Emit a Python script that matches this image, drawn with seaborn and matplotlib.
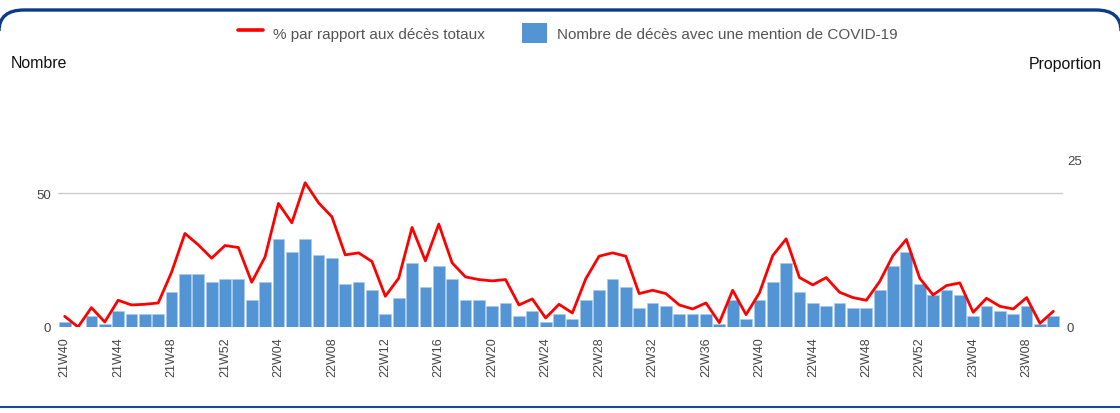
import numpy as np
import pandas as pd
import matplotlib
matplotlib.use("Agg")
import matplotlib.pyplot as plt
import seaborn as sns
from matplotlib.lines import Line2D
from matplotlib.patches import Patch, PathPatch
from matplotlib.path import Path

# ---------------- data ----------------
weeks = ([f"21W{w:02d}" for w in range(40, 53)]
         + [f"22W{w:02d}" for w in range(1, 53)]
         + [f"23W{w:02d}" for w in range(1, 11)])

deaths = [2, 0, 4, 1, 6, 5, 5, 5, 13, 20, 20, 17, 18,
          18, 10, 17, 33, 28, 33, 27, 26, 16, 17, 14, 5, 11, 24, 15, 23, 18, 10,
          10, 8, 9, 4, 6, 2, 5, 3, 10, 14, 18, 15, 7, 9, 8, 5, 5, 5, 1, 10, 3,
          10, 17, 24, 13, 9, 8, 9, 7, 7, 14, 23, 28, 16,
          12, 14, 12, 4, 8, 6, 5, 8, 1, 4]

proportion = [1.6, 0.0, 2.9, 0.75, 4.0, 3.3, 3.4, 3.6, 8.2, 14.0, 12.3, 10.3, 12.2,
              11.9, 6.7, 10.5, 18.5, 15.6, 21.6, 18.6, 16.5, 10.8, 11.1, 9.8, 4.6,
              7.3, 14.9, 9.9, 15.4, 9.6, 7.5, 7.1, 6.9, 7.1, 3.3, 4.2, 1.35, 3.4,
              2.1, 7.2, 10.6, 11.1, 10.6, 5.0, 5.5, 5.0, 3.3, 2.7, 3.6, 0.65, 5.5,
              1.85, 5.1, 10.7, 13.2, 7.4, 6.3, 7.4, 5.2, 4.4, 4.0, 6.8, 10.7, 13.1,
              7.3, 4.8, 6.2, 6.6, 2.2, 4.3, 3.1, 2.7, 4.4, 0.55, 2.35]

left_ticks = [0, 50]
right_ticks = [0, 25]

legend_line = "% par rapport aux décès totaux"
legend_bar = "Nombre de décès avec une mention de COVID-19"

df = pd.DataFrame({"week": weeks, "deaths": deaths, "prop": proportion})

# ---------------- style ----------------
sns.set_theme(style="white")
plt.rcParams["font.family"] = ["Liberation Sans", "DejaVu Sans"]

BAR = "#5294d4"
RED = "#ff0000"
GREY = "#444444"

W, H = 1120, 414
fig = plt.figure(figsize=(W / 100, H / 100), dpi=100)
ax = fig.add_axes([58 / W, 1 - 328 / H, (1060 - 58) / W, (328 - 161) / H])

sns.barplot(data=df, x="week", y="deaths", color=BAR, saturation=1,
            width=0.88, edgecolor="#a9c9ea", linewidth=0.4, ax=ax)
ax.set_xlim(-0.5, len(weeks) - 0.5)
ax.set_ylim(0, 62.5)
ax.set_yticks(left_ticks)
ax.set_yticklabels([str(t) for t in left_ticks])
ax.yaxis.grid(False)
ax.axhline(50, color="#cccccc", lw=1, zorder=0, xmin=0, xmax=1.002, clip_on=False)
idx = list(range(0, len(weeks), 4))
ax.set_xticks(idx)
ax.set_xticklabels([weeks[i] for i in idx], rotation=90, color=GREY, fontsize=9)
ax.tick_params(axis="x", length=0, pad=7)
ax.tick_params(axis="y", length=0, pad=5, labelsize=9.5, labelcolor=GREY)
ax.set_xlabel("")
ax.set_ylabel("")
for s in ax.spines.values():
    s.set_visible(False)

ax2 = ax.twinx()
sns.lineplot(x=np.arange(len(weeks)), y=df["prop"], color=RED, lw=2.0, ax=ax2)
ax2.set_ylim(0, 25)
ax2.set_yticks(right_ticks)
ax2.set_yticklabels([str(t) for t in right_ticks])
ax2.tick_params(axis="y", length=0, pad=5, labelsize=9.5, labelcolor=GREY)
ax2.set_ylabel("")
for s in ax2.spines.values():
    s.set_visible(False)
ax2.set_xlim(-0.5, len(weeks) - 0.5)

# axis titles
fig.text(11 / W, 1 - 64 / H, "Nombre", ha="left", va="center", fontsize=11.4, color="#111111")
fig.text(1102 / W, 1 - 64 / H, "Proportion", ha="right", va="center", fontsize=11.4, color="#111111")

# legend
handles = [Line2D([0], [0], color=RED, lw=2.6),
           Patch(facecolor=BAR, edgecolor="none")]
fig.legend(handles, [legend_line, legend_bar], loc="center",
           bbox_to_anchor=(568 / W, 1 - 34 / H), ncol=2, frameon=False,
           fontsize=11, handlelength=1.65, handleheight=1.65,
           handletextpad=0.65, columnspacing=2.4, labelcolor="#555555")

# frame decorations (pixel coords from top-left -> figure fraction)
def fp(x, y):
    return (x / W, 1 - y / H)

verts = [fp(-1, 32), fp(-1, 11), fp(24, 11), fp(1096, 11), fp(1121, 11), fp(1121, 32)]
codes = [Path.MOVETO, Path.CURVE3, Path.CURVE3, Path.LINETO, Path.CURVE3, Path.CURVE3]
border = PathPatch(Path(verts, codes), transform=fig.transFigure, facecolor="none",
                   edgecolor="#0b3a8a", lw=2.4, zorder=10)
fig.add_artist(border)
fig.add_artist(Line2D([0, 1], [1 - 408 / H, 1 - 408 / H], transform=fig.transFigure,
                      color="#1a4a9a", lw=1.5))

fig.savefig("out.png", dpi=100)
